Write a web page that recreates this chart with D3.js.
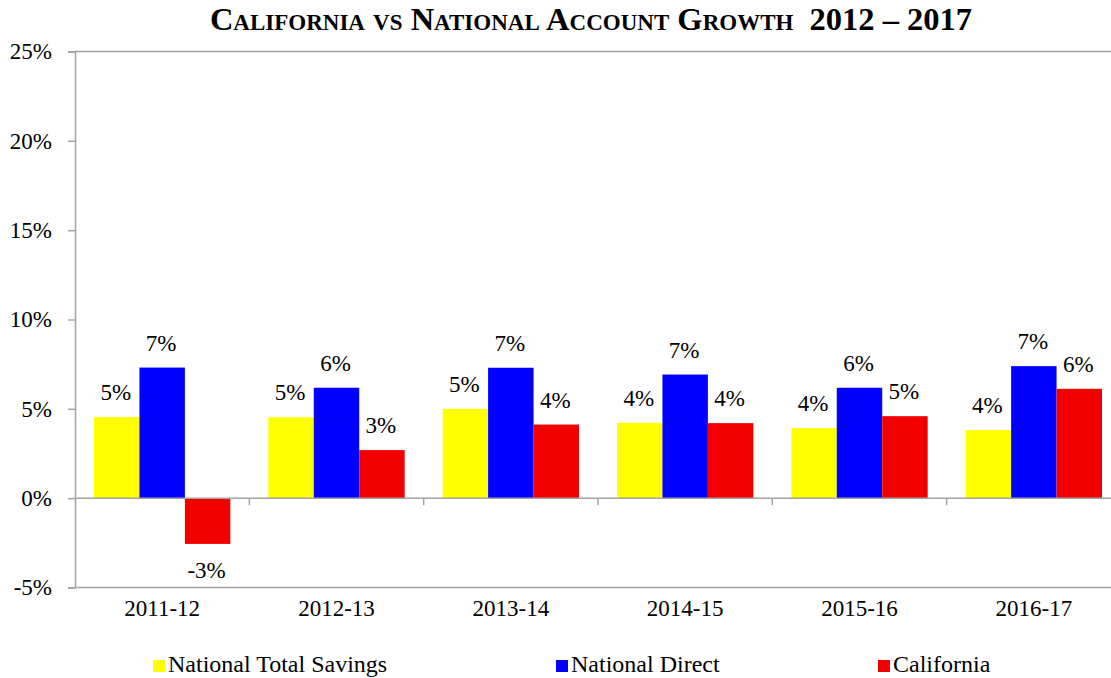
<!DOCTYPE html>
<html>
<head>
<meta charset="utf-8">
<script src="https://cdn.jsdelivr.net/npm/d3@7"></script>
<style>
  body { margin: 0; background: #fff; }
  svg { display: block; font-family: "Liberation Serif", "Times New Roman", serif; }
</style>
</head>
<body>
<div id="view"></div>
<script>
'use strict';

const years = ['2011-12', '2012-13', '2013-14', '2014-15', '2015-16', '2016-17'];
const seriesNames = ['National Total Savings', 'National Direct', 'California'];
const nationalTotalSavings = [4.54, 4.53, 5.0, 4.22, 3.92, 3.81];
const nationalDirect = [7.31, 6.18, 7.30, 6.92, 6.18, 7.39];
const california = [-2.56, 2.69, 4.12, 4.20, 4.59, 6.12];
const yTicks = [-5, 0, 5, 10, 15, 20, 25];

const seriesValues = [nationalTotalSavings, nationalDirect, california];
const colors = ['#ffff00', '#0000ff', '#f20000'];

const size = { w: 1111, h: 678 };
const plot = { left: 75, right: 1121, top: 51.5, bottom: 587.5 };
const serif = '"Liberation Serif", "Times New Roman", serif';
const presentation = {
  stroke_axis: '#a3a3a3',
  fill_text: '#000000',
  fontSize: 23
};

const svg = d3.select('#view').append('svg')
  .attr('width', size.w)
  .attr('height', size.h)
  .attr('font-family', serif);

const y = d3.scaleLinear().domain([-5, 25]).range([plot.bottom, plot.top]);
const x0 = d3.scaleBand().domain(years).range([plot.left, plot.right]);
const groupPad = 19;
const x1 = d3.scaleBand().domain(seriesNames).range([groupPad, x0.bandwidth() - groupPad]);

// title
svg.append('text')
  .attr('x', 591)
  .attr('y', 29.5)
  .attr('text-anchor', 'middle')
  .attr('font-weight', 'bold')
  .attr('font-size', 32.5)
  .style('font-variant', 'small-caps')
  .style('white-space', 'pre')
  .text('California vs National Account Growth  2012 \u2013 2017');

// plot border top & bottom
[25, -5].forEach(v => {
  svg.append('line')
    .attr('x1', plot.left).attr('x2', plot.right)
    .attr('y1', y(v)).attr('y2', y(v))
    .attr('stroke', presentation.stroke_axis)
    .attr('stroke-width', 1.5);
});

// bars
const table = years.map((yr, i) => ({ year: yr, values: seriesNames.map((s, j) => ({ s, j, v: seriesValues[j][i] })) }));

const gGroups = svg.append('g').selectAll('g')
  .data(table)
  .enter()
  .append('g')
  .attr('transform', d => `translate(${x0(d.year)},0)`);

gGroups.selectAll('rect')
  .data(d => d.values)
  .enter()
  .append('rect')
  .attr('x', d => x1(d.s))
  .attr('width', x1.bandwidth())
  .attr('y', d => y(Math.max(0, d.v)))
  .attr('height', d => Math.abs(y(d.v) - y(0)))
  .attr('fill', d => colors[d.j]);

gGroups.selectAll('text')
  .data(d => d.values)
  .enter()
  .append('text')
  .attr('x', d => x1(d.s) + x1.bandwidth() / 2 - 1)
  .attr('y', d => d.v >= 0 ? y(d.v) - 17 : y(d.v) + 34)
  .attr('text-anchor', 'middle')
  .attr('font-size', presentation.fontSize)
  .attr('fill', presentation.fill_text)
  .text(d => Math.round(d.v) + '%');

// y axis
const yAxis = svg.append('g')
  .attr('transform', `translate(${plot.left},0)`)
  .call(d3.axisLeft(y).tickValues(yTicks).tickSize(7).tickPadding(16).tickFormat(d => d + '%'));
yAxis.attr('font-family', serif);
yAxis.select('.domain').attr('stroke', presentation.stroke_axis).attr('stroke-width', 1.5);
yAxis.selectAll('.tick line').attr('stroke', presentation.stroke_axis).attr('stroke-width', 1.5);
yAxis.selectAll('.tick text')
  .attr('font-size', presentation.fontSize)
  .attr('fill', presentation.fill_text);

// zero (category) axis
svg.append('line')
  .attr('x1', plot.left).attr('x2', plot.right)
  .attr('y1', y(0)).attr('y2', y(0))
  .attr('stroke', presentation.stroke_axis)
  .attr('stroke-width', 1.5);

svg.append('g').selectAll('line')
  .data(years.slice(1))
  .enter()
  .append('line')
  .attr('x1', d => x0(d)).attr('x2', d => x0(d))
  .attr('y1', y(0)).attr('y2', y(0) + 7)
  .attr('stroke', presentation.stroke_axis)
  .attr('stroke-width', 1.5);

svg.append('g').selectAll('text')
  .data(years)
  .enter()
  .append('text')
  .attr('x', d => x0(d) + x0.bandwidth() / 2)
  .attr('y', 616)
  .attr('text-anchor', 'middle')
  .attr('font-size', presentation.fontSize)
  .attr('fill', presentation.fill_text)
  .text(d => d);

// legend
const legendX = [153, 556, 878];
const gLegend = svg.append('g').selectAll('g')
  .data(seriesNames)
  .enter()
  .append('g')
  .attr('transform', (d, i) => `translate(${legendX[i]},0)`);

gLegend.append('rect')
  .attr('y', 660)
  .attr('width', 12)
  .attr('height', 12)
  .attr('fill', (d, i) => colors[i]);

gLegend.append('text')
  .attr('x', 15)
  .attr('y', 672)
  .attr('font-size', 24)
  .attr('fill', presentation.fill_text)
  .text(d => d);
</script>
</body>
</html>
